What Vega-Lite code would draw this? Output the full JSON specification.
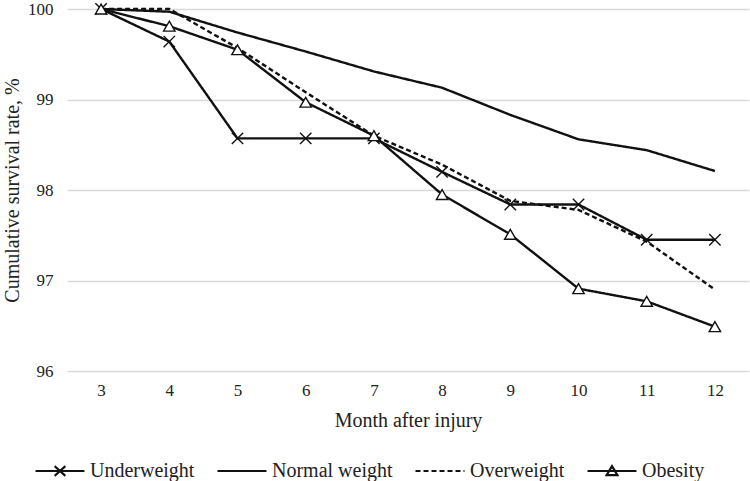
{
  "$schema": "https://vega.github.io/schema/vega-lite/v6.json",
  "width": 682,
  "height": 362,
  "autosize": {"type": "none"},
  "padding": {"left": 67, "top": 9, "right": 1, "bottom": 110},
  "background": "white",
  "config": {
    "view": {"stroke": null},
    "font": "Liberation Serif",
    "axis": {"labelFont": "Liberation Serif", "titleFont": "Liberation Serif", "labelColor": "#222", "titleColor": "#222", "titleFontWeight": "normal"},
    "legend": {"labelFont": "Liberation Serif", "labelColor": "#222"}
  },
  "data": {
    "values": [
      {"month": 3, "group": "Underweight", "rate": 100},
      {"month": 4, "group": "Underweight", "rate": 99.64},
      {"month": 5, "group": "Underweight", "rate": 98.57},
      {"month": 6, "group": "Underweight", "rate": 98.57},
      {"month": 7, "group": "Underweight", "rate": 98.57},
      {"month": 8, "group": "Underweight", "rate": 98.2},
      {"month": 9, "group": "Underweight", "rate": 97.84},
      {"month": 10, "group": "Underweight", "rate": 97.84},
      {"month": 11, "group": "Underweight", "rate": 97.45},
      {"month": 12, "group": "Underweight", "rate": 97.45},
      {"month": 3, "group": "Normal weight", "rate": 100},
      {"month": 4, "group": "Normal weight", "rate": 99.97},
      {"month": 5, "group": "Normal weight", "rate": 99.74},
      {"month": 6, "group": "Normal weight", "rate": 99.53},
      {"month": 7, "group": "Normal weight", "rate": 99.31},
      {"month": 8, "group": "Normal weight", "rate": 99.13},
      {"month": 9, "group": "Normal weight", "rate": 98.83},
      {"month": 10, "group": "Normal weight", "rate": 98.56},
      {"month": 11, "group": "Normal weight", "rate": 98.44},
      {"month": 12, "group": "Normal weight", "rate": 98.21},
      {"month": 3, "group": "Overweight", "rate": 100},
      {"month": 4, "group": "Overweight", "rate": 100},
      {"month": 5, "group": "Overweight", "rate": 99.57},
      {"month": 6, "group": "Overweight", "rate": 99.08},
      {"month": 7, "group": "Overweight", "rate": 98.6},
      {"month": 8, "group": "Overweight", "rate": 98.28},
      {"month": 9, "group": "Overweight", "rate": 97.88},
      {"month": 10, "group": "Overweight", "rate": 97.78},
      {"month": 11, "group": "Overweight", "rate": 97.43},
      {"month": 12, "group": "Overweight", "rate": 96.9},
      {"month": 3, "group": "Obesity", "rate": 100},
      {"month": 4, "group": "Obesity", "rate": 99.81},
      {"month": 5, "group": "Obesity", "rate": 99.55},
      {"month": 6, "group": "Obesity", "rate": 98.97},
      {"month": 7, "group": "Obesity", "rate": 98.6},
      {"month": 8, "group": "Obesity", "rate": 97.95},
      {"month": 9, "group": "Obesity", "rate": 97.51},
      {"month": 10, "group": "Obesity", "rate": 96.91},
      {"month": 11, "group": "Obesity", "rate": 96.77},
      {"month": 12, "group": "Obesity", "rate": 96.49}
    ]
  },
  "encoding": {
    "x": {
      "field": "month", "type": "ordinal", "sort": "ascending",
      "scale": {"type": "point", "padding": 0.5},
      "axis": {"title": "Month after injury", "labelAngle": 0, "domain": false, "ticks": false, "grid": false, "labelFontSize": 17, "labelPadding": 11, "titleFontSize": 20, "titlePadding": 12}
    },
    "y": {
      "field": "rate", "type": "quantitative",
      "scale": {"domain": [96, 100], "nice": false, "zero": false},
      "axis": {"title": "Cumulative survival rate, %", "values": [96, 97, 98, 99, 100], "domain": false, "ticks": false, "grid": true, "gridColor": "#d9d9d9", "gridWidth": 1.3, "labelFontSize": 17, "labelPadding": 14, "titleFontSize": 20, "titlePadding": 5}
    }
  },
  "layer": [
    {
      "mark": {"type": "line", "color": "#111", "strokeWidth": 2.4},
      "encoding": {
        "detail": {"field": "group"},
        "strokeDash": {
          "field": "group", "type": "nominal",
          "scale": {"domain": ["Underweight", "Normal weight", "Overweight", "Obesity"], "range": [[1, 0], [1, 0], [5, 3], [1, 0]]},
          "legend": {
            "title": null, "orient": "none", "direction": "horizontal",
            "legendX": -33, "legendY": 436,
            "symbolSize": 2400, "symbolStrokeWidth": 2.2, "symbolStrokeColor": "#111", "symbolFillColor": "transparent",
            "labelFontSize": 20, "labelOffset": 4, "columnPadding": 18,
            "encode": {
              "symbols": {
                "update": {
                  "shape": {"signal": "datum.value === 'Underweight' ? 'M-1,0H1M-0.22,-0.2L0.22,0.2M-0.22,0.2L0.22,-0.2' : (datum.value === 'Obesity' ? 'M-1,0H1M-0.22,0.17L0,-0.2L0.22,0.17Z' : 'M-1,0H1')"}
                }
              }
            }
          }
        }
      }
    },
    {
      "transform": [{"filter": "datum.group === 'Underweight' || datum.group === 'Obesity'"}],
      "mark": {"type": "point", "fill": "white", "stroke": "#111", "strokeWidth": 1.4, "opacity": 1, "size": 130},
      "encoding": {
        "shape": {
          "field": "group", "type": "nominal",
          "scale": {"domain": ["Underweight", "Obesity"], "range": ["M-1,-1L1,1M-1,1L1,-1", "triangle-up"]},
          "legend": null
        }
      }
    }
  ]
}
